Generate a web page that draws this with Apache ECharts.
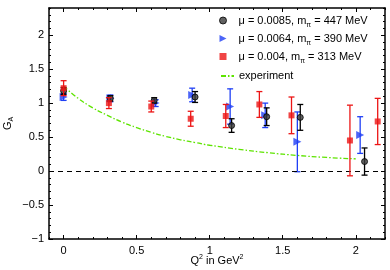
<!DOCTYPE html>
<html><head><meta charset="utf-8">
<script src="https://cdn.jsdelivr.net/npm/echarts@6/dist/echarts.min.js"></script>
<style>html,body{margin:0;padding:0;background:#fff}#c{width:390px;height:270px}</style>
</head><body><div id="c"></div>
<script>
// tick labels
const xTicks = [0, 0.5, 1, 1.5, 2];
const yTicks = [-1, -0.5, 0, 0.5, 1, 1.5, 2];

// mu = 0.0085, m_pi = 447 MeV
const nameBlack = 'μ = 0.0085, mπ = 447 MeV';
const q2Black = [0.00, 0.32, 0.62, 0.90, 1.15, 1.39, 1.62, 2.06];
const gaBlack = [1.18, 1.07, 1.04, 1.09, 0.67, 0.80, 0.79, 0.14];
const errBlack = [0.05, 0.04, 0.04, 0.08, 0.10, 0.13, 0.19, 0.20];

// mu = 0.0064, m_pi = 390 MeV
const nameBlue = 'μ = 0.0064, mπ = 390 MeV';
const q2Blue = [0.00, 0.32, 0.63, 0.88, 1.14, 1.38, 1.60, 2.03];
const gaBlue = [1.09, 1.07, 1.00, 1.12, 0.95, 0.82, 0.43, 0.53];
const errBlue = [0.05, 0.05, 0.05, 0.10, 0.26, 0.18, 0.44, 0.27];

// mu = 0.004, m_pi = 313 MeV
const nameRed = 'μ = 0.004, mπ = 313 MeV';
const q2Red = [0.00, 0.31, 0.60, 0.87, 1.11, 1.34, 1.56, 1.96, 2.15];
const gaRed = [1.22, 1.00, 0.95, 0.77, 0.81, 0.98, 0.82, 0.45, 0.73];
const errRed = [0.11, 0.08, 0.08, 0.11, 0.17, 0.19, 0.27, 0.52, 0.34];

// experiment curve
const nameExp = 'experiment';
const q2Exp = [0.00, 0.10, 0.20, 0.30, 0.40, 0.50, 0.60, 0.70, 0.80, 0.90, 1.00, 1.20, 1.40, 1.60, 1.80, 2.00];
const gaExp = [1.25, 1.07, 0.93, 0.82, 0.72, 0.64, 0.57, 0.51, 0.46, 0.42, 0.38, 0.32, 0.27, 0.23, 0.20, 0.18];

const FONT = 'Liberation Sans, Arial, Helvetica, sans-serif';
const cBlack = '#000000', cBlue = '#1f3ff5', cRed = '#ec1515', cGreen = '#5ee400';

function zip3(a, b, c) { return a.map((v, i) => [v, b[i], c[i]]); }
function zip2(a, b) { return a.map((v, i) => [v, b[i]]); }

function errRender(color) {
  return function (params, api) {
    const x = api.value(0), y = api.value(1), e = api.value(2);
    const t = api.coord([x, y + e]), b = api.coord([x, y - e]);
    const hw = 3;
    const style = { stroke: color, lineWidth: 1.3, fill: null };
    return { type: 'group', children: [
      { type: 'line', shape: { x1: t[0], y1: t[1], x2: b[0], y2: b[1] }, style },
      { type: 'line', shape: { x1: t[0] - hw, y1: t[1], x2: t[0] + hw, y2: t[1] }, style },
      { type: 'line', shape: { x1: b[0] - hw, y1: b[1], x2: b[0] + hw, y2: b[1] }, style }
    ]};
  };
}

const fmtNum = v => String(v).replace('-', '\u2212');
const lineSt = { color: '#000', width: 1.5 };

function xAx(pos, major, labels) {
  const a = {
    type: 'value', min: -0.1, max: 2.2, position: pos, gridIndex: 0,
    axisLine: { show: major, onZero: false, lineStyle: lineSt },
    splitLine: { show: false },
    axisTick: { show: true, inside: true, length: major ? 4 : 2, lineStyle: { color: '#000', width: 1 } },
    axisLabel: { show: labels, fontFamily: FONT, fontSize: 11, color: '#000', margin: 6, formatter: fmtNum }
  };
  if (major) { a.axisTick.customValues = xTicks; a.axisLabel.customValues = xTicks; }
  else { a.interval = 0.1; }
  return a;
}
function yAx(pos, major, labels) {
  const a = {
    type: 'value', min: -1, max: 2.4, position: pos, gridIndex: 0,
    axisLine: { show: major, onZero: false, lineStyle: lineSt },
    splitLine: { show: false },
    axisTick: { show: true, inside: true, length: major ? 4 : 2, lineStyle: { color: '#000', width: 1 } },
    axisLabel: { show: labels, fontFamily: FONT, fontSize: 11, color: '#000', margin: 5, formatter: fmtNum }
  };
  if (major) { a.axisTick.customValues = yTicks; a.axisLabel.customValues = yTicks; }
  else { a.interval = 0.1; }
  return a;
}

const xAxes = [xAx('bottom', true, true), xAx('bottom', false, false), xAx('top', true, false), xAx('top', false, false)];
xAxes[0].name = 'Q{sup|2} in GeV{sup|2}';
xAxes[0].nameLocation = 'middle';
xAxes[0].nameGap = 15;
xAxes[0].nameMoveOverlap = false;
xAxes[0].nameTextStyle = { fontFamily: FONT, fontSize: 11, color: '#000', verticalAlign: 'top', lineHeight: 14,
  rich: { sup: { fontFamily: FONT, fontSize: 7, color: '#000', verticalAlign: 'top', lineHeight: 14 } } };
const yAxes = [yAx('left', true, true), yAx('left', false, false), yAx('right', true, false), yAx('right', false, false)];
yAxes[0].name = 'G{sub|A}';
yAxes[0].nameLocation = 'middle';
yAxes[0].nameGap = 34;
yAxes[0].nameMoveOverlap = false;
yAxes[0].nameRotate = 90;
yAxes[0].nameTextStyle = { fontFamily: FONT, fontSize: 11, color: '#000', lineHeight: 14,
  rich: { sub: { fontFamily: FONT, fontSize: 7, color: '#000', verticalAlign: 'bottom', lineHeight: 14 } } };

const legendText = {
  fontFamily: FONT, fontSize: 11, color: '#000', lineHeight: 14,
  rich: { sub: { fontFamily: FONT, fontSize: 7, color: '#000', verticalAlign: 'bottom', lineHeight: 17 } }
};

const option = {
  animation: false,
  backgroundColor: '#fff',
  grid: { left: 49, right: 5, top: 8, bottom: 31, containLabel: false, outerBoundsMode: 'none' },
  xAxis: xAxes,
  yAxis: yAxes,
  legend: [
    { data: [
        { name: nameBlack, itemStyle: { color: '#3a3a3a', borderColor: '#000', borderWidth: 1 } },
        { name: nameBlue, icon: 'path://M0,0 L10,5 L0,10 Z' },
        { name: nameRed }
      ],
      orient: 'vertical', left: 219, top: 12, itemWidth: 7, itemHeight: 7,
      itemGap: 1, padding: 0, textStyle: Object.assign({ padding: [0, 0, 0, 7] }, legendText),
      formatter: n => n.replace('mπ', 'm{sub|π}'), selectedMode: false },
    { data: [{ name: nameExp, itemStyle: { opacity: 0 } }], orient: 'vertical', left: 220, top: 69, itemWidth: 13, itemHeight: 8, padding: 0,
      textStyle: legendText, selectedMode: false }
  ],
  series: [
    { name: 'errBlue', type: 'custom', renderItem: errRender(cBlue), data: zip3(q2Blue, gaBlue, errBlue), encode: { x: 0, y: 1 }, clip: true, z: 3 },
    { name: nameBlue, type: 'scatter', data: zip2(q2Blue, gaBlue), symbol: 'triangle', symbolRotate: -90, symbolSize: 8,
      itemStyle: { color: cBlue }, z: 4 },
    { name: 'errBlack', type: 'custom', renderItem: errRender(cBlack), data: zip3(q2Black, gaBlack, errBlack), encode: { x: 0, y: 1 }, clip: true, z: 5 },
    { name: nameBlack, type: 'scatter', data: zip2(q2Black, gaBlack), symbol: 'circle', symbolSize: 6,
      itemStyle: { color: '#3a3a3a', borderColor: '#000', borderWidth: 1 }, z: 6 },
    { name: 'errRed', type: 'custom', renderItem: errRender(cRed), data: zip3(q2Red, gaRed, errRed), encode: { x: 0, y: 1 }, clip: true, z: 7 },
    { name: nameRed, type: 'scatter', data: zip2(q2Red, gaRed), symbol: 'rect', symbolSize: 6,
      itemStyle: { color: cRed }, z: 8 },
    { name: nameExp, type: 'line', data: zip2(q2Exp, gaExp), smooth: true, symbol: 'none', z: 2,
      lineStyle: { color: cGreen, width: 1.3, type: [5, 2, 1.5, 2] }, itemStyle: { color: cGreen },
      markLine: { silent: true, symbol: 'none', label: { show: false },
        lineStyle: { color: '#000', width: 1.2, type: [5, 4] }, data: [{ yAxis: 0 }] } }
  ]
};
const chart = echarts.init(document.getElementById('c'), null, { renderer: 'canvas' });
chart.setOption(option);
</script></body></html>
